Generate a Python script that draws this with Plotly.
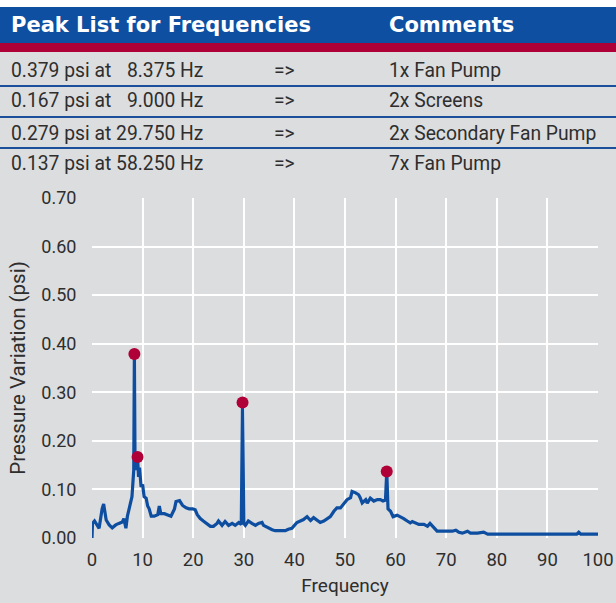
import plotly.graph_objects as go

# Spectrum: frequency (Hz) vs pressure variation (psi)
freq = [0.0, 0.1, 0.5, 1.1, 1.4, 2.0, 2.3, 2.8, 3.4, 4.0, 4.7, 5.3, 6.0, 6.3, 6.7,
        7.0, 7.3, 7.7, 7.9, 8.25, 8.375, 8.5, 8.75, 9.0, 9.2, 9.4, 9.7, 10.0, 10.3,
        10.7, 11.0, 11.3, 11.7, 12.3, 13.0, 13.3, 13.6, 14.3, 14.9, 15.6, 16.3,
        16.6, 17.3, 17.9, 18.6, 19.2, 19.9, 20.4, 20.8, 21.4, 22.0, 22.7, 23.4,
        24.0, 24.7, 25.0, 25.7, 26.3, 27.0, 27.7, 28.3, 29.0, 29.5, 29.75, 30.0,
        30.3, 30.9, 31.6, 32.3, 32.9, 33.6, 33.9, 34.6, 35.6, 36.2, 37.2, 38.2,
        38.8, 39.5, 40.5, 41.2, 41.8, 42.5, 43.2, 43.8, 44.5, 45.1, 45.8, 46.5,
        47.1, 47.8, 48.4, 49.1, 49.8, 50.4, 51.1, 51.4, 52.1, 52.7, 53.0, 53.4,
        54.1, 54.4, 55.0, 55.7, 56.4, 57.0, 57.5, 58.0, 58.25, 58.5, 59.0, 59.5,
        60.3, 61.0, 61.6, 62.3, 62.9, 63.3, 63.9, 64.6, 65.6, 66.3, 66.8, 67.3,
        67.9, 68.2, 69.6, 71.2, 71.9, 72.5, 73.2, 74.2, 74.8, 76.2, 77.4, 78.2,
        80.8, 85.0, 90.0, 95.8, 96.2, 96.6, 100.0]
psi = [0.0, 0.030, 0.035, 0.025, 0.020, 0.060, 0.070, 0.037, 0.027, 0.021, 0.027,
       0.030, 0.033, 0.040, 0.020, 0.045, 0.058, 0.075, 0.085, 0.140, 0.379, 0.160,
       0.140, 0.167, 0.126, 0.145, 0.105, 0.110, 0.085, 0.082, 0.066, 0.060, 0.045,
       0.045, 0.048, 0.066, 0.050, 0.050, 0.048, 0.045, 0.060, 0.075, 0.077, 0.067,
       0.062, 0.060, 0.060, 0.058, 0.048, 0.040, 0.035, 0.030, 0.024, 0.024, 0.030,
       0.035, 0.026, 0.034, 0.026, 0.030, 0.026, 0.032, 0.028, 0.279, 0.030, 0.026,
       0.035, 0.030, 0.026, 0.030, 0.032, 0.026, 0.022, 0.017, 0.015, 0.015, 0.015,
       0.018, 0.020, 0.032, 0.035, 0.038, 0.044, 0.036, 0.042, 0.036, 0.032, 0.035,
       0.040, 0.044, 0.055, 0.062, 0.062, 0.072, 0.079, 0.083, 0.096, 0.093, 0.089,
       0.083, 0.072, 0.079, 0.072, 0.082, 0.076, 0.079, 0.079, 0.076, 0.078, 0.137,
       0.060, 0.055, 0.044, 0.047, 0.044, 0.040, 0.035, 0.031, 0.034, 0.031, 0.028,
       0.028, 0.024, 0.030, 0.024, 0.018, 0.014, 0.014, 0.014, 0.016, 0.012, 0.010,
       0.014, 0.010, 0.010, 0.012, 0.008, 0.008, 0.008, 0.008, 0.008, 0.012, 0.008,
       0.008]

# Labelled peaks
peak_freq = [8.375, 9.000, 29.750, 58.250]
peak_psi = [0.379, 0.167, 0.279, 0.137]
peak_comments = ["1x Fan Pump", "2x Screens", "2x Secondary Fan Pump", "7x Fan Pump"]

x_ticks = [0, 10, 20, 30, 40, 50, 60, 70, 80, 90, 100]
y_ticks = [0.0, 0.1, 0.2, 0.3, 0.4, 0.5, 0.6, 0.7]

W, H = 616, 603
L, R, T, B = 92, 18, 198, 65
PW, PH = W - L - R, H - T - B

BG = "#dcdddf"
BLUE = "#0e4fa1"
RED = "#b00038"
LINE = "#0d4ea0"
TXT = "#2e2e2e"
FONT = "Roboto, sans-serif"


def px(xp):
    return (xp - L) / PW


def py(yp):
    return (H - B - yp) / PH


fig = go.Figure()
fig.add_trace(go.Scatter(x=freq, y=psi, mode="lines",
                         line=dict(color=LINE, width=3.2), hoverinfo="x+y"))
fig.add_trace(go.Scatter(x=peak_freq, y=peak_psi, mode="markers",
                         marker=dict(color=RED, size=12), hoverinfo="x+y"))

shapes = [
    # header band and red rule under it
    dict(type="rect", xref="paper", yref="paper", x0=px(0), x1=px(W),
         y0=py(43), y1=py(7), fillcolor=BLUE, line=dict(width=0), layer="below"),
    dict(type="rect", xref="paper", yref="paper", x0=px(0), x1=px(W),
         y0=py(52), y1=py(43), fillcolor=RED, line=dict(width=0), layer="below"),
    dict(type="rect", xref="paper", yref="paper", x0=px(0), x1=px(W),
         y0=py(7), y1=py(0), fillcolor="white", line=dict(width=0), layer="below"),
]
for yy in [86, 117, 148]:
    shapes.append(dict(type="line", xref="paper", yref="paper", x0=px(0), x1=px(W),
                       y0=py(yy), y1=py(yy), line=dict(color="#1b4f9c", width=2)))

annotations = [
    dict(text="<b>Peak List for Frequencies</b>", x=px(9), y=py(25),
         font=dict(family="DejaVu Sans", size=21, color="white")),
    dict(text="<b>Comments</b>", x=px(387), y=py(25),
         font=dict(family="DejaVu Sans", size=21, color="white")),
]
row_y = [70, 101, 133, 164]
for f, p, c, yy in zip(peak_freq, peak_psi, peak_comments, row_y):
    fs = f"{f:.3f}"
    if len(fs) < 6:
        fs = "\u2007" + fs
    annotations.append(dict(text=f"{p:.3f} psi at {fs} Hz", x=px(9), y=py(yy),
                            font=dict(family=FONT, size=19.3, color=TXT)))
    annotations.append(dict(text="=>", x=px(272), y=py(yy),
                            font=dict(family=FONT, size=19.3, color=TXT)))
    annotations.append(dict(text=c, x=px(387), y=py(yy),
                            font=dict(family=FONT, size=19.3, color=TXT)))
for a in annotations:
    a.update(xref="paper", yref="paper", xanchor="left", yanchor="middle",
             showarrow=False)

fig.update_layout(
    width=W, height=H,
    margin=dict(l=L, r=R, t=T, b=B, autoexpand=False),
    paper_bgcolor=BG, plot_bgcolor=BG,
    showlegend=False,
    font=dict(family=FONT, size=18, color=TXT),
    shapes=shapes, annotations=annotations,
    xaxis=dict(range=[0, 100], tickvals=x_ticks, showgrid=True, gridcolor="white",
               gridwidth=2, zeroline=False, showline=False, ticks="outside",
               ticklen=5, tickcolor=BG, automargin=False,
               tickfont=dict(size=18.5),
               title=dict(text="Frequency", standoff=8,
                          font=dict(family=FONT, size=19, color=TXT))),
    yaxis=dict(range=[0, 0.7], tickvals=y_ticks, tickformat=".2f", showgrid=True,
               gridcolor="white", gridwidth=2, zeroline=False, showline=False,
               ticks="outside", ticklen=11, tickcolor=BG, automargin=False,
               tickfont=dict(size=18),
               title=dict(text="Pressure Variation (psi)", standoff=10,
                          font=dict(family=FONT, size=20.5, color=TXT))),
)

fig.write_html("out.html")
